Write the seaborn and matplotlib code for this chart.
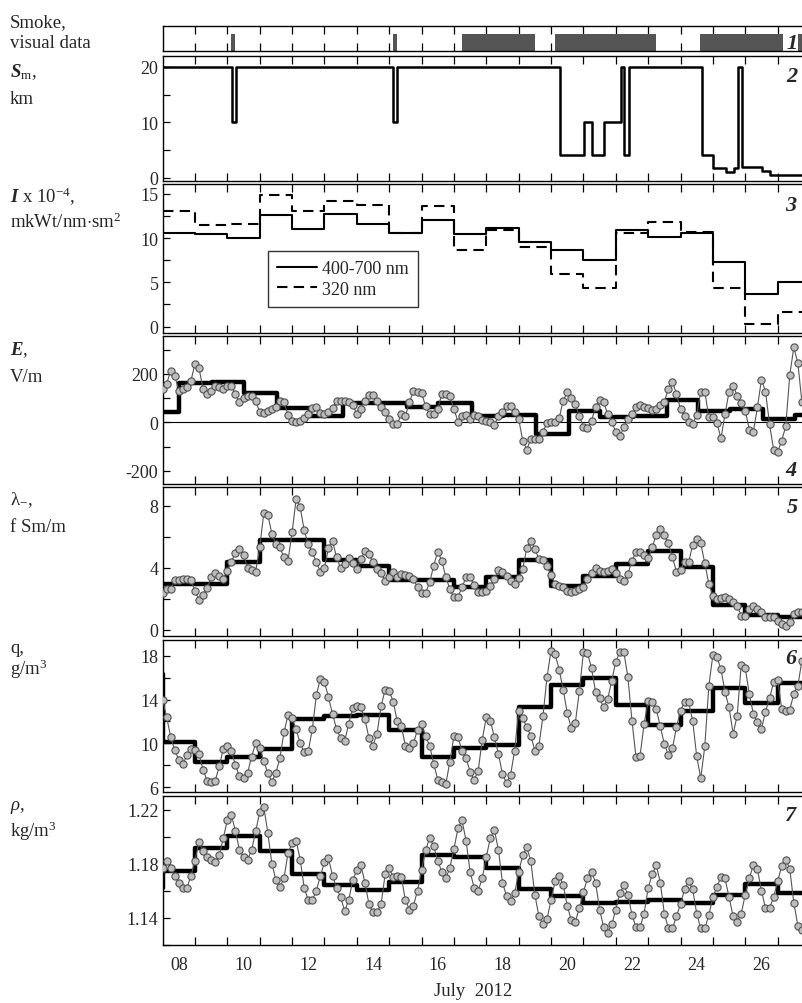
import numpy as np
import matplotlib
matplotlib.use("Agg")
import matplotlib.pyplot as plt
import seaborn as sns

# ---- data (days of July 2012) ----
# 1: smoke, visual data (start / end of each smoky interval)
smoke_start = [10.11, 15.11, 17.26, 20.12, 24.60, 27.64]
smoke_end = [10.24, 15.23, 19.51, 23.24, 27.17, 27.95]

# 2: meteorological visibility S_m, km (value holds from each change point)
sm_x = [8.0, 10.15, 10.27, 15.13, 15.25, 20.28, 21.03, 21.28, 21.64, 22.16,
        22.26, 22.41, 24.66, 25.01, 25.39, 25.64, 25.78, 25.89, 26.53, 26.76]
sm_val = [20, 10, 20, 10, 20, 4, 10, 4, 10, 20,
          4, 20, 4, 1.8, 1.0, 1.8, 20, 1.9, 1.2, 0.5]

# 3: daily solar irradiance I x 10^-4
i_days = [8, 9, 10, 11, 12, 13, 14, 15, 16, 17, 18, 19, 20, 21, 22, 23, 24, 25, 26, 27]
i_vis = [10.6, 10.5, 10.0, 12.6, 11.0, 12.7, 11.6, 10.6, 12.05, 10.5,
         11.1, 9.5, 8.6, 7.5, 10.9, 10.1, 10.6, 7.3, 3.7, 5.0]
i_uv = [13.0, 11.5, 11.6, 14.9, 13.05, 14.2, 13.7, 10.6, 13.6, 8.6,
        10.9, 9.0, 5.9, 4.4, 10.6, 11.8, 10.7, 4.35, 0.35, 1.6]

# 4: electric field E, V/m (3-hourly) and its daily mean
e_vals = [138, 159, 214, 193, 131, 138, 145, 172, 241, 223,
          138, 117, 131, 152, 145, 138, 149, 152, 117, 83,
          99, 110, 110, 90, 41, 39, 48, 55, 62, 90,
          83, 30, 7, 0, 7, 17, 34, 58, 62, 39,
          34, 44, 58, 90, 90, 90, 86, 72, 34, 55,
          90, 113, 113, 90, 62, 41, 14, -7,
          -7, 34, 25, 83, 131, 124, 121, 66, 34, 34,
          55, 117, 117, 110, 55, 3, 25, 30, 14, 30,
          25, 11, 7, 3, -10, 25, 44, 69, 66, 44,
          14, -76, -113, -69, -69, -69, -39, -3, 3, 0,
          17, 90, 124, 99, 76, 25, -18, -25, 7, 62,
          94, 83, 34, 3, -41, -58, -21, 14, 34, 62,
          72, 62, 58, 52, 55, 72, 86, 138, 168, 117,
          55, 25, 3, -7, 30, 127, 127, 21, 21, -3,
          -66, 34, 127, 152, 110, 80, 48, -30, -39, 62,
          176, 127, -7, -113, -124, -76, -17, 196, 310, 245, 83]
e_step_x = [8.0, 8.52, 9.52, 10.53, 11.53, 12.54, 13.57, 14.53, 15.54, 16.52, 17.55,
            18.52, 19.52, 20.56, 21.51, 22.53, 23.57, 24.53, 25.53, 26.54, 27.54]
e_step = [44, 161, 165, 121, 59, 27, 80, 80, 65, 80, 27,
          32, -48, 45, 21, 25, 92, 48, 55, 14, 30]

# 5: negative polar conductivity lambda_-, fSm/m
lam_vals = [2.37, 2.6, 2.6, 3.2, 3.2, 3.27, 3.27, 3.2, 2.5, 1.94,
            2.24, 2.67, 3.38, 3.66, 3.48, 3.27, 3.8, 4.39, 4.95, 5.2,
            4.82, 4.0, 3.85, 3.74, 5.3, 7.5, 7.4, 6.2, 5.5, 5.3,
            4.67, 4.45, 6.28, 8.4, 7.9, 6.4, 5.5, 5.0, 4.34, 3.74,
            4.0, 5.25, 5.7, 4.67, 3.96, 4.24, 4.6, 4.3, 3.9, 4.56,
            5.1, 4.9, 4.34, 3.9, 3.66, 3.16, 3.38, 3.7, 3.38,
            3.6, 3.5, 3.44, 3.27, 2.73, 2.37, 2.37, 3.05, 4.13, 5.03,
            4.45, 3.38, 2.62, 2.09, 2.09, 2.73, 3.38, 3.38, 2.88, 2.4,
            2.4, 2.5, 2.8, 3.27, 3.85, 3.74, 3.44, 3.16, 2.95, 3.31,
            3.9, 5.25, 5.74, 5.2, 4.56, 4.5, 4.13, 3.53, 2.95, 2.84,
            2.73, 2.5, 2.4, 2.5, 2.62, 2.73, 3.27, 3.66, 3.96, 3.8,
            3.74, 3.8, 3.9, 3.66, 3.27, 3.16, 3.6, 4.45, 4.99, 5.03,
            4.82, 4.6, 5.3, 6.1, 6.5, 6.1, 5.57, 4.67, 3.74, 3.87,
            4.39, 4.34, 5.46, 5.85, 5.57, 4.28, 2.95, 2.19, 1.98, 2.02,
            2.09, 1.98, 1.8, 1.55, 0.9, 0.86, 1.33, 1.5, 1.33, 1.16,
            0.8, 0.8, 0.8, 0.58, 0.37, 0.22, 0.47, 1.0, 1.16, 1.12]
lam_step_x = [8, 10, 11, 13, 14, 15, 17, 18, 19, 20, 21, 22, 23, 24, 25, 26, 27]
lam_step = [2.95, 4.34, 5.8, 4.5, 4.13, 3.2, 2.77, 3.38, 4.52, 2.8, 3.48,
            4.24, 5.05, 4.06, 1.59, 0.95, 0.8]

# 6: absolute humidity q, g/m3
q_vals = [14.0, 12.4, 10.6, 9.4, 8.5, 8.1, 8.9, 9.5, 9.4, 9.0,
          7.6, 6.6, 6.5, 6.6, 7.9, 9.5, 9.8, 9.3, 8.0, 7.0,
          6.8, 7.3, 8.8, 10.0, 9.6, 8.4, 7.3, 6.5, 7.3, 8.7,
          11.0, 12.6, 12.3, 11.3, 10.0, 9.2, 9.3, 11.3, 14.4, 15.9,
          15.6, 14.2, 12.7, 11.3, 10.5, 10.2, 11.8, 13.2, 13.4, 13.3,
          12.2, 10.5, 9.8, 10.9, 13.4, 14.9, 14.8, 13.8, 12.0,
          11.56, 9.8, 9.55, 10.0, 11.26, 11.77, 10.65, 9.8, 8.12, 6.7,
          6.45, 6.3, 8.33, 10.7, 10.56, 9.34, 8.64, 7.43, 6.67, 7.52,
          10.35, 12.38, 12.08, 10.56, 9.04, 7.21, 6.39, 7.12, 9.34, 12.99,
          12.29, 11.47, 10.71, 9.34, 9.8, 12.47, 16.03, 18.46, 18.16, 16.73,
          14.9, 12.78, 11.38, 11.86, 14.81, 18.3, 18.25, 16.85, 14.72, 14.11,
          13.29, 14.05, 15.72, 17.46, 18.3, 18.3, 16.03, 12.08, 8.73, 8.88,
          11.77, 13.9, 13.81, 13.14, 11.56, 9.95, 8.94, 9.55, 11.47, 12.99,
          13.75, 13.75, 12.08, 8.82, 6.82, 9.73, 15.27, 18.06, 17.85, 16.79,
          14.66, 13.29, 10.86, 12.53, 17.15, 16.85, 14.51, 12.68, 11.92, 11.32,
          12.9, 14.11, 15.57, 15.82, 13.14, 12.99, 13.08, 14.51, 15.27, 17.55]
q_step_x = [7.9, 8, 9, 10, 11, 12, 13, 14, 15, 16, 17, 18, 19, 20, 21, 22, 23, 24, 25, 26, 27]
q_step = [16.3, 10.1, 8.28, 8.73, 9.49, 12.23, 12.5, 12.6, 11.2, 8.73, 9.55,
          9.86, 13.29, 15.3, 16.0, 13.53, 11.68, 12.99, 15.02, 13.66, 15.48]

# 7: air density rho, kg/m3
rho_vals = [1.177, 1.182, 1.177, 1.171, 1.166, 1.162, 1.162, 1.171, 1.182, 1.196,
            1.189, 1.185, 1.183, 1.181, 1.186, 1.199, 1.212, 1.216, 1.204, 1.190,
            1.185, 1.183, 1.190, 1.204, 1.218, 1.222, 1.203, 1.180, 1.168, 1.163,
            1.169, 1.188, 1.195, 1.197, 1.183, 1.162, 1.153, 1.153, 1.160, 1.171,
            1.181, 1.184, 1.171, 1.162, 1.155, 1.145, 1.153, 1.168, 1.175, 1.179,
            1.166, 1.150, 1.144, 1.144, 1.150, 1.172, 1.177, 1.170, 1.171,
            1.170, 1.153, 1.146, 1.149, 1.160, 1.175, 1.190, 1.199, 1.193, 1.182,
            1.174, 1.169, 1.177, 1.191, 1.206, 1.212, 1.197, 1.174, 1.162, 1.160,
            1.169, 1.185, 1.199, 1.205, 1.190, 1.166, 1.156, 1.152, 1.158, 1.174,
            1.186, 1.192, 1.182, 1.157, 1.141, 1.135, 1.139, 1.153, 1.167, 1.171,
            1.164, 1.149, 1.138, 1.137, 1.147, 1.159, 1.169, 1.174, 1.166, 1.146,
            1.133, 1.129, 1.135, 1.146, 1.158, 1.164, 1.157, 1.142, 1.133, 1.133,
            1.143, 1.162, 1.172, 1.179, 1.166, 1.143, 1.132, 1.132, 1.141, 1.150,
            1.161, 1.167, 1.161, 1.143, 1.132, 1.132, 1.142, 1.155, 1.163, 1.170,
            1.169, 1.155, 1.141, 1.137, 1.143, 1.157, 1.169, 1.179, 1.176, 1.160,
            1.147, 1.147, 1.155, 1.167, 1.178, 1.183, 1.176, 1.151, 1.134, 1.131]
rho_step_x = [7.9, 8, 9, 10, 11, 12, 13, 14, 15, 16, 17, 18, 19, 20, 21, 22, 23, 24, 25, 26, 27]
rho_step = [1.162, 1.1746, 1.1912, 1.2005, 1.1893, 1.1722, 1.1644, 1.1607, 1.1661, 1.1863, 1.1846,
            1.1766, 1.1615, 1.1559, 1.151, 1.1517, 1.1534, 1.151, 1.1566, 1.1649, 1.1583]

tick_days = list(range(9, 28))
label_pos = [8.5, 10.5, 12.5, 14.5, 16.5, 18.5, 20.5, 22.5, 24.5, 26.5]
label_txt = ["08", "10", "12", "14", "16", "18", "20", "22", "24", "26"]

# ---- style ----
sns.set_theme(style="ticks")
plt.rcParams["font.family"] = ["Liberation Serif", "DejaVu Serif"]
plt.rcParams["mathtext.fontset"] = "custom"
plt.rcParams["mathtext.rm"] = "Liberation Serif"
plt.rcParams["mathtext.it"] = "Liberation Serif:italic"
plt.rcParams["mathtext.bf"] = "Liberation Serif:bold:italic"
plt.rcParams["axes.linewidth"] = 1.0
plt.rcParams["axes.edgecolor"] = "black"
plt.rcParams["axes.unicode_minus"] = False

W_PX, H_PX = 802, 1004
X0_PX = 162.6
PX_PER_DAY = 32.37
AX_W = 0.80
XMAX = 8 + AX_W * W_PX / PX_PER_DAY

fig = plt.figure(figsize=(W_PX / 100, H_PX / 100), dpi=100)


def panel(top, bottom):
    return fig.add_axes([X0_PX / W_PX, 1 - bottom / H_PX, AX_W, (bottom - top) / H_PX])


def fig_text(x, y, s, **kw):
    fig.text(x / W_PX, 1 - y / H_PX, s, **kw)


def style_axis(ax, ylim, major, minor):
    ax.set_xlim(8, XMAX)
    ax.set_ylim(*ylim)
    ax.set_xticks(tick_days)
    ax.set_xticklabels([])
    ax.tick_params(axis="x", which="major", direction="in", top=True, bottom=True,
                   length=6, width=0.9, color="black")
    if major is not None:
        ax.set_yticks(major)
        ax.set_yticks(minor, minor=True)
        ax.tick_params(axis="y", which="both", direction="in", left=True, right=False,
                       length=5, width=0.9, labelsize=13, pad=3, color="black")
    else:
        ax.set_yticks([])
    ax.set_xlabel("")
    ax.set_ylabel("")


def step_line(ax, xs, ys, **kw):
    sns.lineplot(x=list(xs) + [XMAX + 1], y=list(ys) + [ys[-1]], ax=ax,
                 drawstyle="steps-post", estimator=None, sort=False, legend=False, **kw)


def dot_line(ax, vals):
    t = 8 + np.arange(len(vals)) * 0.125
    sns.lineplot(x=t, y=vals, ax=ax, color="#555555", lw=0.8, marker="o",
                 markersize=5.2, markerfacecolor="#bdbdbd", markeredgecolor="#505050",
                 markeredgewidth=0.8, estimator=None, sort=False, legend=False, zorder=3)


# panel 1: smoke
ax1 = panel(27, 52.3)
smoke_w = [e - s for s, e in zip(smoke_start, smoke_end)]
ax1.bar(smoke_start, [0.67] * len(smoke_start), width=smoke_w, bottom=0,
        align="edge", color="#555555", linewidth=0)
style_axis(ax1, (0, 1), None, None)

# panel 2: S_m
ax2 = panel(56.7, 181.7)
step_line(ax2, sm_x, sm_val, color="black", lw=1.8)
style_axis(ax2, (-0.55, 22), [0, 10, 20], [5, 15])

# panel 3: I
ax3 = panel(185, 334)
step_line(ax3, i_days, i_vis, color="black", lw=1.5)
step_line(ax3, i_days, i_uv, color="black", lw=1.5, linestyle=(0, (5, 3)))
style_axis(ax3, (-0.72, 16.1), [0, 5, 10, 15], [2.5, 7.5, 12.5])
h_vis = plt.Line2D([], [], color="black", lw=1.5)
h_uv = plt.Line2D([], [], color="black", lw=1.5, linestyle=(0, (5, 3)))
leg = ax3.legend([h_vis, h_uv], ["400-700 nm", "320 nm"], loc="lower left",
                 bbox_to_anchor=(0.164, 0.177), borderaxespad=0, fontsize=13,
                 frameon=True, fancybox=False, handlelength=2.2, handletextpad=0.3,
                 borderpad=0.5, labelspacing=0.2)
leg.get_frame().set_edgecolor("black")
leg.get_frame().set_linewidth(1.0)

# panel 4: E
ax4 = panel(336.7, 485)
ax4.axhline(0, color="black", lw=0.8, zorder=1)
dot_line(ax4, e_vals)
step_line(ax4, e_step_x, e_step, color="black", lw=3.2, zorder=2)
style_axis(ax4, (-255, 358), [-200, 0, 200], [-100, 100, 300])

# panel 5: lambda
ax5 = panel(488.3, 636.7)
dot_line(ax5, lam_vals)
step_line(ax5, lam_step_x, lam_step, color="black", lw=3.2, zorder=2)
style_axis(ax5, (-0.39, 9.18), [0, 4, 8], [2, 6])

# panel 6: q
ax6 = panel(641, 793.3)
dot_line(ax6, q_vals)
step_line(ax6, q_step_x, q_step, color="black", lw=3.2, zorder=2)
style_axis(ax6, (5.54, 19.43), [6, 10, 14, 18], [8, 12, 16])

# panel 7: rho
ax7 = panel(797.3, 945.7)
dot_line(ax7, rho_vals)
step_line(ax7, rho_step_x, rho_step, color="black", lw=3.2, zorder=2)
style_axis(ax7, (1.1212, 1.2298), [1.14, 1.18, 1.22], [1.12, 1.16, 1.20])
ax7.set_yticklabels(["1.14", "1.18", "1.22"])
ax7.set_xticks(label_pos, minor=True)
ax7.set_xticklabels(label_txt, minor=True)
ax7.tick_params(axis="x", which="minor", length=0, labelsize=13, pad=8)

# panel numbers
for num, (px, py) in zip(["1", "2", "3", "4", "5", "6", "7"],
                         [(792, 44), (792, 77), (791, 206), (791, 471),
                          (792, 508), (791, 659), (790, 816)]):
    fig_text(px, py, num, fontsize=16, style="italic", weight="bold",
             ha="center", va="center")

# quantity names on the left
lab = dict(fontsize=13.5, ha="left", va="baseline")
fig_text(10, 27, "Smoke,", **lab)
fig_text(10, 48, "visual data", **lab)
fig_text(10, 77, r"$\mathbf{S}_{\mathrm{m}}$,", **lab)
fig_text(10, 104, "km", **lab)
fig_text(10, 203, r"$\mathbf{I}$ x 10$^{-4}$,", **lab)
fig_text(10, 228, r"mkWt/nm$\cdot$sm$^2$", **lab)
fig_text(10, 355, r"$\mathbf{E}$,", **lab)
fig_text(10, 382, "V/m", **lab)
fig_text(10, 505, r"λ$_{-}$,", **lab)
fig_text(10, 532, "f Sm/m", **lab)
fig_text(10, 653, "q,", **lab)
fig_text(10, 675, r"g/m$^3$", **lab)
fig_text(10, 810, r"$\rho$,", **lab)
fig_text(10, 837, r"kg/m$^3$", **lab)

fig_text(473, 992, "July  2012", fontsize=13.5, ha="center", va="center")

fig.savefig("out.png", dpi=100)
